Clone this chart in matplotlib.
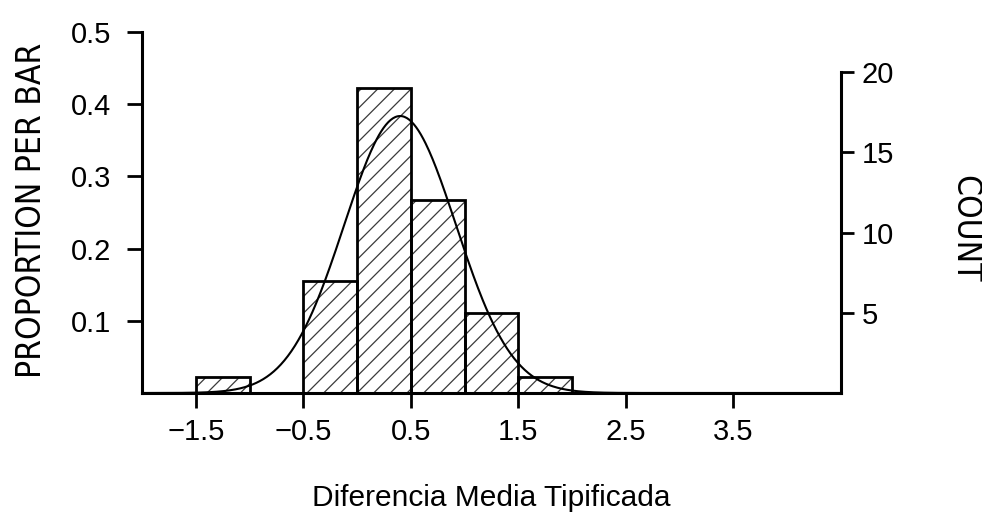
import os
import numpy as np
import matplotlib
matplotlib.use("Agg")
import matplotlib.pyplot as plt
from matplotlib import font_manager
from matplotlib.font_manager import FontProperties

# ---- data ----
bin_edges = [-1.5, -1.0, -0.5, 0.0, 0.5, 1.0, 1.5, 2.0]
counts = [1, 0, 7, 19, 12, 5, 1]
curve_mean = 0.40
curve_sd = 0.52
x_ticks = [-1.5, -0.5, 0.5, 1.5, 2.5, 3.5]
left_ticks = [0.1, 0.2, 0.3, 0.4, 0.5]
right_ticks = [5, 10, 15, 20]
xlabel = "Diferencia Media Tipificada"
ylabel_left = "PROPORTION PER BAR"
ylabel_right = "COUNT"

# find a condensed font for the axis titles
def find_condensed():
    fl = font_manager.fontManager.ttflist
    def ok(f):
        w = f.weight if isinstance(f.weight, int) else 400
        return f.style == 'normal' and w in (400, 'normal', 'regular')
    for f in fl:
        if f.name == 'Liberation Sans Narrow' and ok(f) and 'Bold' not in f.fname and 'Italic' not in f.fname:
            return f.fname, 25
    for f in fl:
        b = os.path.basename(f.fname)
        if b == 'DejaVuSansCondensed.ttf':
            return f.fname, 24
    for f in fl:
        b = os.path.basename(f.fname)
        if 'Condensed' in b and 'Bold' not in b and 'Oblique' not in b and 'Italic' not in b and 'Sans' in b and 'Mono' not in b:
            return f.fname, 24
    return None, 21

cond_path, cond_size = find_condensed()
if cond_path:
    title_fp_l = FontProperties(fname=cond_path, size=cond_size)
    title_fp_r = FontProperties(fname=cond_path, size=cond_size)
else:
    title_fp_l = FontProperties(family='Liberation Sans', size=21)
    title_fp_r = FontProperties(family='Liberation Sans', size=23)

plt.rcParams['font.family'] = ['Liberation Sans', 'DejaVu Sans']
plt.rcParams['hatch.linewidth'] = 0.9

N = sum(counts)
props = np.array(counts) / N
width = bin_edges[1] - bin_edges[0]

fig = plt.figure(figsize=(9.82, 5.14), dpi=100)
ax = fig.add_axes([142/982, (514-393)/514, (841-142)/982, (393-32)/514])

# hatched fill
ax.bar(bin_edges[:-1], props, width=width, align='edge', color='white',
       edgecolor='#3a3a3a', hatch='//', linewidth=0, zorder=2)
# outlines
ax.bar(bin_edges[:-1], props, width=width, align='edge', fill=False,
       edgecolor='black', linewidth=2.0, zorder=3)

xs = np.linspace(-2.0, 4.5, 600)
ys = width * np.exp(-0.5 * ((xs - curve_mean) / curve_sd) ** 2) / (curve_sd * np.sqrt(2 * np.pi))
ax.plot(xs, ys, color='black', linewidth=1.5, zorder=4)

ax.set_xlim(-2.0, 4.5)
ax.set_ylim(0, 0.5)
ax.set_xticks(x_ticks)
ax.set_xticklabels([f"{v:.1f}".replace("-", "\u2212") for v in x_ticks])
ax.set_yticks(left_ticks)
ax.set_yticklabels([f"{v:.1f}" for v in left_ticks])
for s in ['top', 'right']:
    ax.spines[s].set_visible(False)
for s in ['left', 'bottom']:
    ax.spines[s].set_linewidth(2.2)
ax.tick_params(axis='x', direction='out', length=11, width=2.0, labelsize=21, pad=7)
ax.tick_params(axis='y', direction='out', length=11, width=2.0, labelsize=21, pad=11)

ax.set_xlabel(xlabel, fontsize=21.5, labelpad=27)
ax.set_ylabel(ylabel_left, fontproperties=title_fp_l)
ax.yaxis.set_label_coords(-0.134, 0.507)

ax2 = ax.twinx()
ax2.set_ylim(0, 0.5 * N)
ax2.set_yticks(right_ticks)
ax2.set_yticklabels([str(v) for v in right_ticks])
for s in ['top', 'left', 'bottom']:
    ax2.spines[s].set_visible(False)
ax2.spines['right'].set_bounds(0, 20)
ax2.spines['right'].set_linewidth(2.2)
ax2.tick_params(axis='y', direction='out', length=9, width=2.0, labelsize=21, pad=6)
ax2.set_ylabel(ylabel_right, fontproperties=title_fp_r, rotation=-90, va='center')
ax2.yaxis.set_label_coords(1.177, 0.455)

fig.savefig("out.png", dpi=100, facecolor='white')
